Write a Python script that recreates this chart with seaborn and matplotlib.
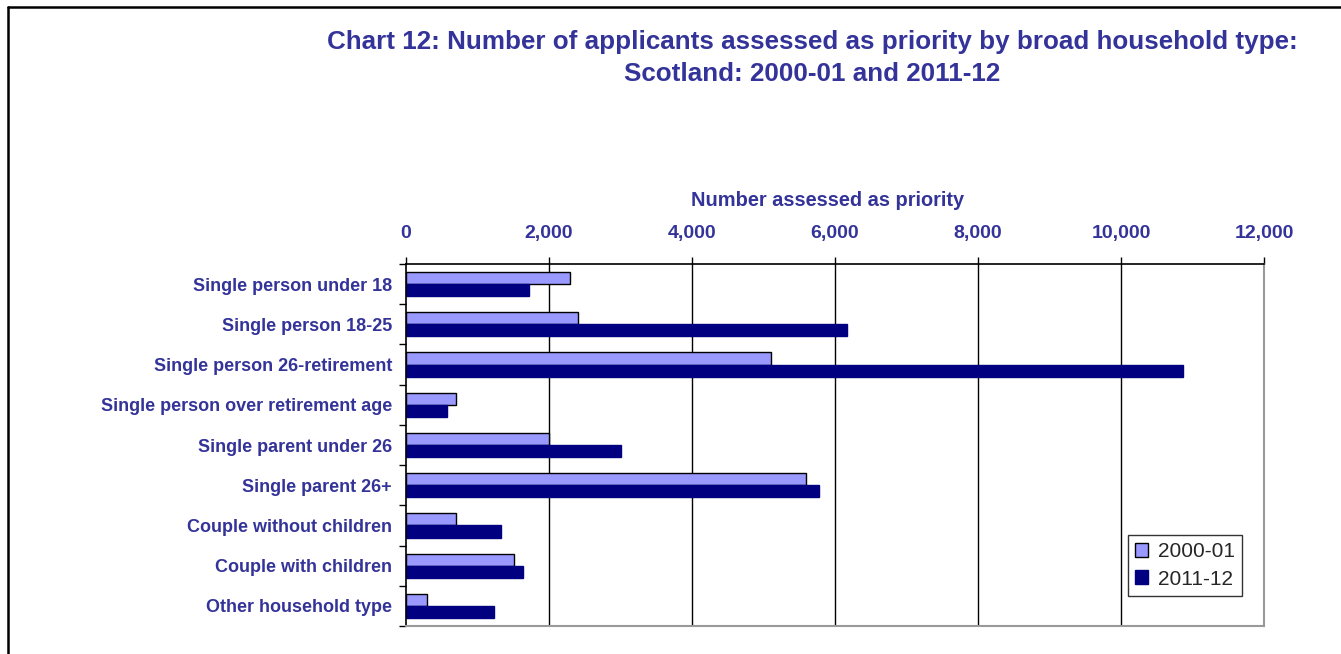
import matplotlib
matplotlib.use("Agg")
import matplotlib.pyplot as plt
from matplotlib.lines import Line2D
from matplotlib.ticker import FixedLocator, FuncFormatter
import numpy as np
import pandas as pd
import seaborn as sns

# Household types (top to bottom)
categories = [
    "Single person under 18",
    "Single person 18-25",
    "Single person 26-retirement",
    "Single person over retirement age",
    "Single parent under 26",
    "Single parent 26+",
    "Couple without children",
    "Couple with children",
    "Other household type",
]
years = ["2000-01", "2011-12"]
priority_2000_01 = [2300, 2400, 5100, 700, 2000, 5600, 700, 1510, 300]
priority_2011_12 = [1725, 6170, 10870, 575, 3005, 5780, 1330, 1630, 1235]
x_ticks = [0, 2000, 4000, 6000, 8000, 10000, 12000]

TEXT_BLUE = "#333399"
LIGHT = "#9999FF"
DARK = "#000080"

df = pd.DataFrame({
    "Household type": categories * 2,
    "Year": [years[0]] * len(categories) + [years[1]] * len(categories),
    "Number": priority_2000_01 + priority_2011_12,
})

sns.set_theme(style="white")
plt.rcParams["font.family"] = ["Liberation Sans", "DejaVu Sans"]

fig = plt.figure(figsize=(13.41, 6.54), dpi=100)
ax = fig.add_axes([406 / 1341, 1 - 626 / 654, 858 / 1341, 362 / 654])

sns.barplot(
    data=df, y="Household type", x="Number", hue="Year",
    order=categories, hue_order=years,
    palette=[LIGHT, DARK], width=0.6, orient="h",
    saturation=1, ax=ax, zorder=3,
)

# Bar outlines: black around the earlier year, navy on the later one
for container, ec in zip(ax.containers, ["black", DARK]):
    for patch in container:
        patch.set_edgecolor(ec)
        patch.set_linewidth(1.0)

ax.set_xlim(0, 12000)
ax.set_ylim(len(categories) - 0.5, -0.5)

# X axis along the top
ax.xaxis.tick_top()
ax.xaxis.set_major_locator(FixedLocator(x_ticks))
ax.xaxis.set_major_formatter(FuncFormatter(lambda v, p: f"{int(v):,}"))
ax.tick_params(axis="x", which="major", direction="out", length=5, width=1,
               color="black", pad=10.5, labelsize=14, labelcolor=TEXT_BLUE,
               top=True, bottom=False)
for lbl in ax.get_xticklabels():
    lbl.set_fontweight("bold")

ax.xaxis.set_label_position("top")
ax.set_xlabel("Number assessed as priority", fontsize=14.4, fontweight="bold",
              color=TEXT_BLUE)
ax.xaxis.set_label_coords((828 - 406) / 858, (626 - 201) / 362)
ax.xaxis.label.set_va("center")

# Category labels, with tick marks between categories
ax.set_ylabel("")
ax.tick_params(axis="y", which="major", length=0, pad=10, labelsize=13,
               labelcolor=TEXT_BLUE, left=True)
for lbl in ax.get_yticklabels():
    lbl.set_fontweight("bold")
ax.yaxis.set_minor_locator(FixedLocator(np.arange(-0.5, len(categories), 1.0)))
ax.tick_params(axis="y", which="minor", length=5, width=1, color="black",
               left=True, direction="out")

# Vertical gridlines
ax.grid(False)
for v in x_ticks[1:-1]:
    ax.axvline(v, color="black", linewidth=1, zorder=1)

for side, col in [("top", "black"), ("left", "black"),
                  ("right", "#999999"), ("bottom", "#999999")]:
    ax.spines[side].set_visible(True)
    ax.spines[side].set_color(col)
    ax.spines[side].set_linewidth(1.5 if col != "black" else 1.2)
    ax.spines[side].set_zorder(4)

leg = ax.legend(
    loc="lower right", bbox_to_anchor=((1242 - 406) / 858, (626 - 596) / 362),
    frameon=True, fancybox=False, shadow=False, fontsize=15,
    handlelength=0.65, handleheight=0.65, handletextpad=0.45,
    labelspacing=0.42, borderpad=0.35, borderaxespad=0,
    title=None,
)
leg.get_frame().set_edgecolor("black")
leg.get_frame().set_linewidth(1.0)
for h, ec in zip(leg.legend_handles, ["black", DARK]):
    h.set_edgecolor(ec)
    h.set_linewidth(1.0)

fig.text(812 / 1341, 1 - 30 / 654,
         "Chart 12: Number of applicants assessed as priority by broad household type:\n"
         "Scotland: 2000-01 and 2011-12",
         ha="center", va="top", fontsize=18.7, fontweight="bold",
         color=TEXT_BLUE, linespacing=1.4)

# Outer frame lines
fig.add_artist(Line2D([8 / 1341, 8 / 1341], [0, 1 - 7 / 654],
                      transform=fig.transFigure, color="black", linewidth=1.8))
fig.add_artist(Line2D([8 / 1341, 1], [1 - 7 / 654, 1 - 7 / 654],
                      transform=fig.transFigure, color="black", linewidth=1.8))

fig.savefig("out.png", dpi=100, facecolor="white")
